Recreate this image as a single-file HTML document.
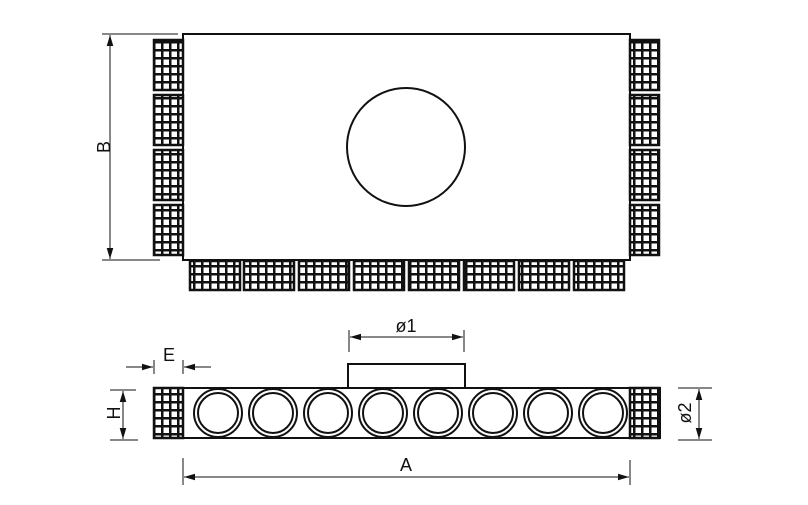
<!DOCTYPE html>
<html><head><style>body{margin:0;background:#fff}svg{display:block}text{font-family:"Liberation Sans",sans-serif;font-size:18px;fill:#111}</style></head>
<body>
<svg width="808" height="505" viewBox="0 0 808 505">
<defs>
<pattern id="gv" x="1" y="1" width="8" height="8" patternUnits="userSpaceOnUse">
<rect x="0" y="0" width="2.5" height="8" fill="#111"/><rect x="0" y="0" width="8" height="2.5" fill="#111"/>
</pattern>
<marker id="ar" viewBox="0 0 10 6" refX="10" refY="3" markerWidth="11" markerHeight="7" orient="auto-start-reverse" markerUnits="userSpaceOnUse"><path d="M0,0L10,3L0,6z" fill="#111"/></marker>
</defs>
<g stroke="#111" fill="none">
<rect x="183" y="34" width="447" height="226" stroke-width="2"/>
<circle cx="406" cy="147" r="59" stroke-width="2"/>
</g>
<g stroke="#111" stroke-width="2.5">
<rect x="154" y="40" width="29" height="50" fill="url(#gv)"/>
<rect x="154" y="95" width="29" height="50" fill="url(#gv)"/>
<rect x="154" y="150" width="29" height="50" fill="url(#gv)"/>
<rect x="154" y="205" width="29" height="50" fill="url(#gv)"/>
<rect x="630" y="40" width="29" height="50" fill="url(#gv)"/>
<rect x="630" y="95" width="29" height="50" fill="url(#gv)"/>
<rect x="630" y="150" width="29" height="50" fill="url(#gv)"/>
<rect x="630" y="205" width="29" height="50" fill="url(#gv)"/>
<rect x="190" y="261" width="50" height="29" fill="url(#gv)"/>
<rect x="244" y="261" width="50" height="29" fill="url(#gv)"/>
<rect x="299" y="261" width="50" height="29" fill="url(#gv)"/>
<rect x="354" y="261" width="50" height="29" fill="url(#gv)"/>
<rect x="409" y="261" width="50" height="29" fill="url(#gv)"/>
<rect x="464" y="261" width="50" height="29" fill="url(#gv)"/>
<rect x="519" y="261" width="50" height="29" fill="url(#gv)"/>
<rect x="574" y="261" width="50" height="29" fill="url(#gv)"/>
</g>
<g stroke="#111" stroke-width="1">
<line x1="102" y1="34" x2="178" y2="34"/>
<line x1="102" y1="260" x2="160" y2="260"/>
<line x1="110" y1="35" x2="110" y2="259" marker-start="url(#ar)" marker-end="url(#ar)"/>
</g>
<text x="104" y="147" text-anchor="middle" transform="rotate(-90 104 147)" dy="6">B</text>
<g stroke="#111" stroke-width="2" fill="#fff">
<rect x="348" y="364" width="117" height="24"/>
<rect x="154" y="388" width="506" height="50"/>
<rect x="154" y="388" width="29" height="50" fill="url(#gv)" stroke-width="2.5"/>
<rect x="630" y="388" width="29" height="50" fill="url(#gv)" stroke-width="2.5"/>
</g>
<g stroke="#111" stroke-width="2" fill="none">
<g id="c"><circle cx="218" cy="413" r="24"/><circle cx="218" cy="413" r="20"/></g>
<use href="#c" x="55"/><use href="#c" x="110"/><use href="#c" x="165"/><use href="#c" x="220"/><use href="#c" x="275"/><use href="#c" x="330"/><use href="#c" x="385"/>
</g>
<g stroke="#111" stroke-width="1">
<line x1="349" y1="330" x2="349" y2="352"/><line x1="464" y1="330" x2="464" y2="352"/>
<line x1="350" y1="337" x2="463" y2="337" marker-start="url(#ar)" marker-end="url(#ar)"/>
<line x1="154" y1="360" x2="154" y2="374"/><line x1="183" y1="360" x2="183" y2="374"/>
<line x1="126" y1="367" x2="153" y2="367" marker-end="url(#ar)"/>
<line x1="211" y1="367" x2="184" y2="367" marker-end="url(#ar)"/>
<line x1="110" y1="390" x2="136" y2="390"/><line x1="110" y1="440" x2="138" y2="440"/>
<line x1="123" y1="391" x2="123" y2="439" marker-start="url(#ar)" marker-end="url(#ar)"/>
<line x1="678" y1="388" x2="712" y2="388"/><line x1="678" y1="440" x2="712" y2="440"/>
<line x1="699" y1="389" x2="699" y2="439" marker-start="url(#ar)" marker-end="url(#ar)"/>
<line x1="183" y1="458" x2="183" y2="485"/><line x1="630" y1="460" x2="630" y2="485"/>
<line x1="184" y1="477" x2="629" y2="477" marker-start="url(#ar)" marker-end="url(#ar)"/>
</g>
<text x="406" y="332" text-anchor="middle">ø1</text>
<text x="169" y="361" text-anchor="middle">E</text>
<text x="114" y="413" text-anchor="middle" transform="rotate(-90 114 413)" dy="6">H</text>
<text x="685" y="413" text-anchor="middle" transform="rotate(-90 685 413)" dy="6">ø2</text>
<text x="406" y="471" text-anchor="middle">A</text>
</svg>
</body></html>
